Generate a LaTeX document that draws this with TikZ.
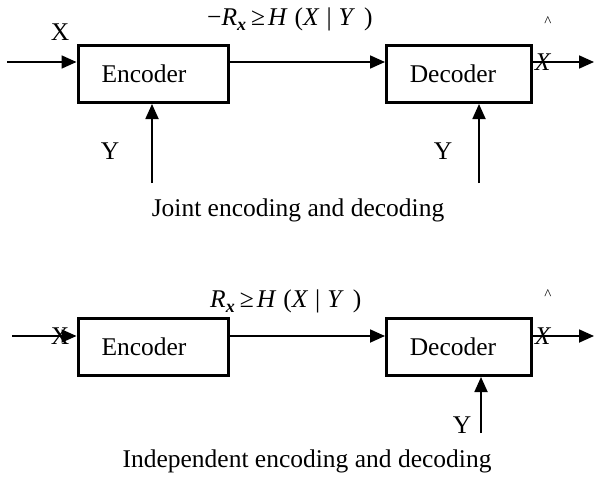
\documentclass[tikz,border=0pt]{standalone}
\usepackage{fontspec}
\setmainfont{Liberation Serif}
\usetikzlibrary{arrows.meta,positioning}
\tikzset{
  blk/.style={draw,line width=3pt,minimum width=150pt,minimum height=57pt,inner sep=0pt,font=\fontsize{25.5}{28}\selectfont},
  lbl/.style={inner sep=0pt,font=\fontsize{25.5}{28}\selectfont},
  hatlbl/.style={inner sep=0pt,font=\fontsize{15}{16}\selectfont},
  flow/.style={line width=1.8pt,-{Triangle[length=15pt,width=13pt]}}
}
\newcommand{\rate}{\textit{R}\raisebox{-5pt}{\fontsize{18}{18}\selectfont\textbf{\textit{x}}}\hspace{5pt}≥\hspace{3pt}\textit{H}\hspace{7pt}(\textit{X}\hspace{7pt}|\hspace{7pt}\textit{Y}\hspace{9pt})}
\begin{document}
\begin{tikzpicture}[x=1pt,y=-1pt]
      \useasboundingbox (0,0) rectangle (596,476);

      % Joint
      \node[blk] (enc1) at (153,74) {Encoder\hspace*{18pt}};
      \node[blk,minimum width=145pt] (dec1) at (459,74) {Decoder\hspace*{12pt}};
      \coordinate (in1) at (7,62);
      \coordinate (out1) at (594,62);
      \coordinate (ye1) at (152,183);
      \coordinate (yd1) at (479,183);
      \draw[flow] (in1) -- (in1 -| enc1.west);
      \draw[flow] (enc1.east |- in1) -- (dec1.west |- in1);
      \draw[flow] (dec1.east |- in1) -- (out1);
      \draw[flow] (ye1) -- (ye1 |- enc1.south);
      \draw[flow] (yd1) -- (yd1 |- dec1.south);
      \node[lbl] (x1) at (60,32) {X};
      \node[lbl,anchor=west] (r1) at (207,19) {−\rate};
      \node[hatlbl] (hat1) at (548,22) {\^{}};
      \node[lbl] (xh1) at (543,62) {\textit{X}};
      \node[lbl] (y1) at (110,151) {Y};
      \node[lbl] (y2) at (443,151) {Y};
      \node[lbl] (t1) at (298,210) {Joint encoding and decoding};

      % Independent
      \node[blk] (enc2) at (153,347) {Encoder\hspace*{18pt}};
      \node[blk,minimum width=145pt] (dec2) at (459,347) {Decoder\hspace*{12pt}};
      \coordinate (in2) at (12,336);
      \coordinate (out2) at (594,336);
      \coordinate (yd2) at (481,433);
      \draw[flow] (in2) -- (in2 -| enc2.west);
      \draw[flow] (enc2.east |- in2) -- (dec2.west |- in2);
      \draw[flow] (dec2.east |- in2) -- (out2);
      \draw[flow] (yd2) -- (yd2 |- dec2.south);
      \node[lbl] (x2) at (60,336) {X};
      \node[lbl,anchor=west] (r2) at (210,301) {\rate};
      \node[hatlbl] (hat2) at (548,295) {\^{}};
      \node[lbl] (xh2) at (543,336) {\textit{X}};
      \node[lbl] (y3) at (462,425) {Y};
      \node[lbl] (t2) at (307,461) {Independent encoding and decoding};
\end{tikzpicture}
\end{document}
